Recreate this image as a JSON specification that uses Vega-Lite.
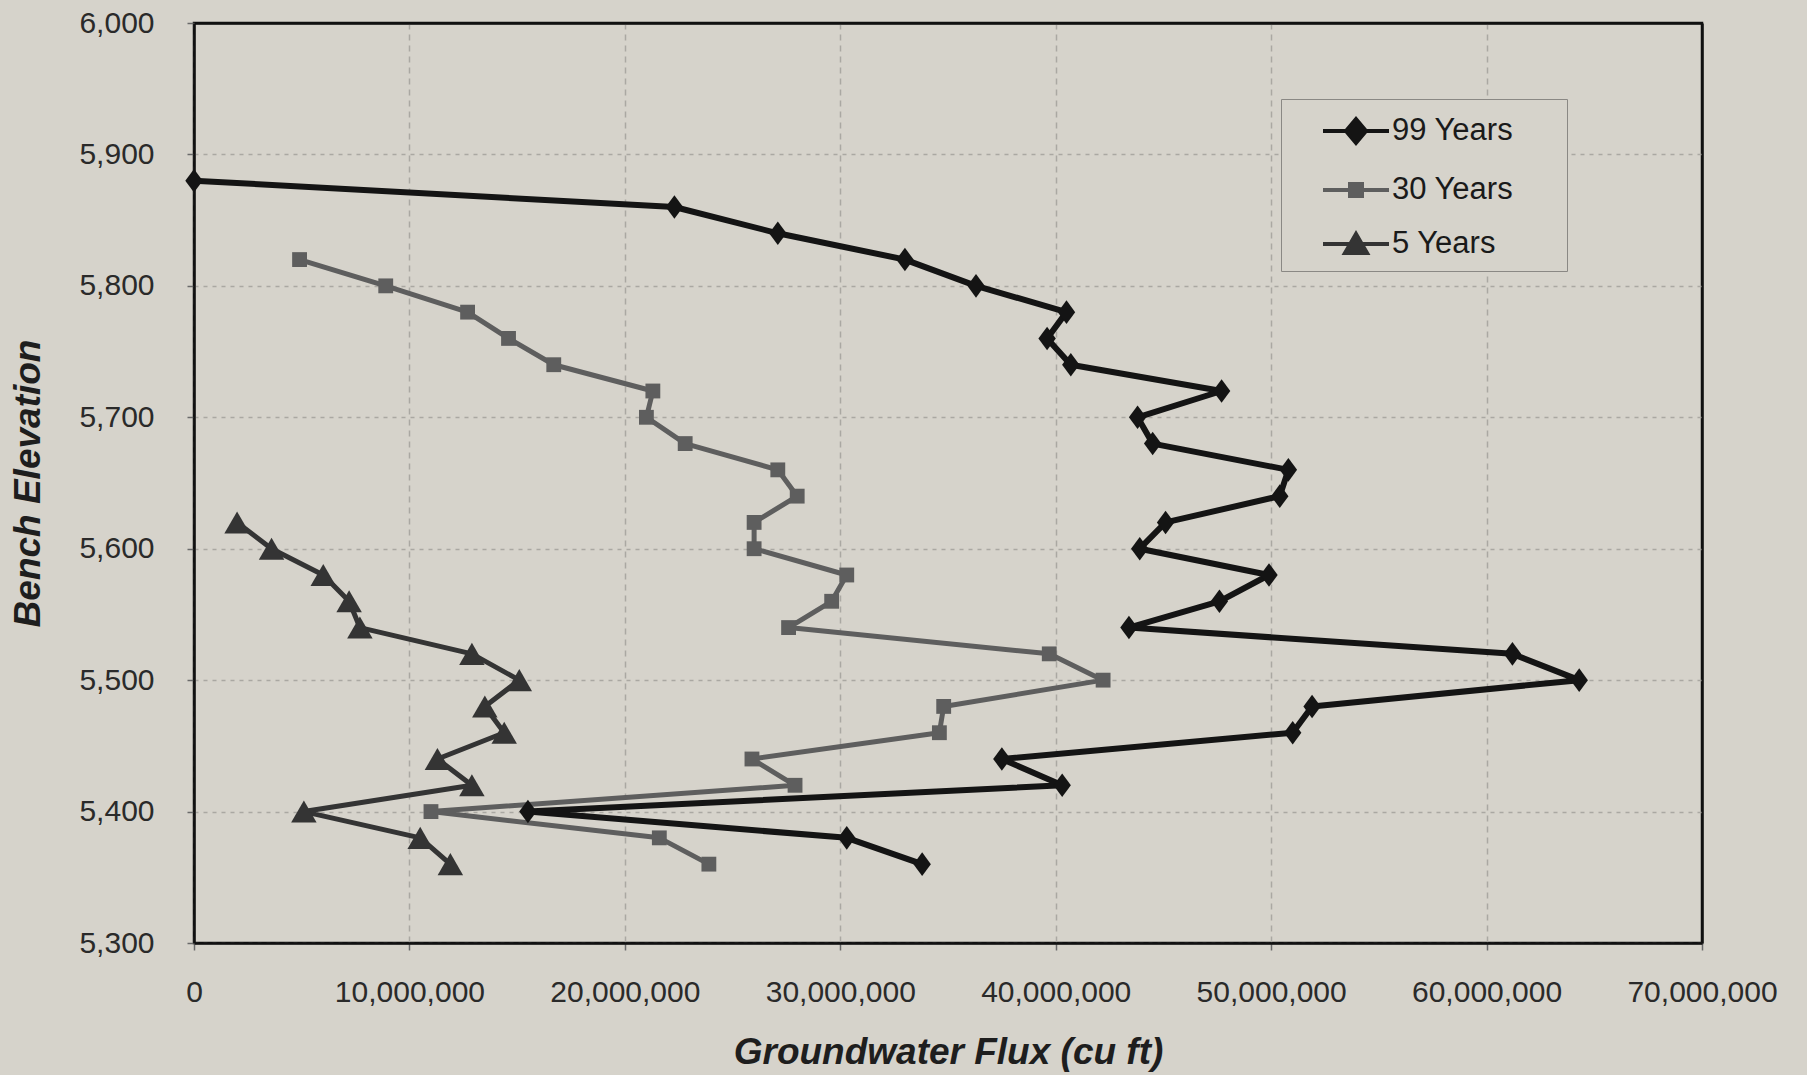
{
  "$schema": "https://vega.github.io/schema/vega-lite/v6.json",
  "width": 1508,
  "height": 920,
  "autosize": {"type": "none"},
  "padding": {"left": 194, "top": 23, "right": 105, "bottom": 132},
  "background": "#d6d3cb",
  "config": {
    "font": "Liberation Sans",
    "view": {"stroke": "#111111", "strokeWidth": 2.5, "fill": "#d6d3cb"},
    "axis": {
      "labelFont": "Liberation Sans",
      "labelFontSize": 30,
      "labelColor": "#2a2a2a",
      "labelOverlap": false,
      "labelFlush": false,
      "tickSize": 7,
      "tickColor": "#6a6a6a",
      "tickWidth": 1.5,
      "domainColor": "#111111",
      "domainWidth": 2.5,
      "grid": true,
      "gridWidth": 1.5,
      "titleFont": "Liberation Sans",
      "titleFontSize": 37,
      "titleFontWeight": "bold",
      "titleFontStyle": "italic",
      "titleColor": "#1e1e1e"
    }
  },
  "data": {
    "values": [
      {"series": "99 Years", "elev": 5880, "flux": 0},
      {"series": "99 Years", "elev": 5860, "flux": 22300000},
      {"series": "99 Years", "elev": 5840, "flux": 27100000},
      {"series": "99 Years", "elev": 5820, "flux": 33000000},
      {"series": "99 Years", "elev": 5800, "flux": 36300000},
      {"series": "99 Years", "elev": 5780, "flux": 40500000},
      {"series": "99 Years", "elev": 5760, "flux": 39600000},
      {"series": "99 Years", "elev": 5740, "flux": 40700000},
      {"series": "99 Years", "elev": 5720, "flux": 47700000},
      {"series": "99 Years", "elev": 5700, "flux": 43800000},
      {"series": "99 Years", "elev": 5680, "flux": 44500000},
      {"series": "99 Years", "elev": 5660, "flux": 50800000},
      {"series": "99 Years", "elev": 5640, "flux": 50400000},
      {"series": "99 Years", "elev": 5620, "flux": 45100000},
      {"series": "99 Years", "elev": 5600, "flux": 43900000},
      {"series": "99 Years", "elev": 5580, "flux": 49900000},
      {"series": "99 Years", "elev": 5560, "flux": 47600000},
      {"series": "99 Years", "elev": 5540, "flux": 43400000},
      {"series": "99 Years", "elev": 5520, "flux": 61200000},
      {"series": "99 Years", "elev": 5500, "flux": 64300000},
      {"series": "99 Years", "elev": 5480, "flux": 51900000},
      {"series": "99 Years", "elev": 5460, "flux": 51000000},
      {"series": "99 Years", "elev": 5440, "flux": 37500000},
      {"series": "99 Years", "elev": 5420, "flux": 40300000},
      {"series": "99 Years", "elev": 5400, "flux": 15500000},
      {"series": "99 Years", "elev": 5380, "flux": 30300000},
      {"series": "99 Years", "elev": 5360, "flux": 33800000},
      {"series": "30 Years", "elev": 5820, "flux": 4900000},
      {"series": "30 Years", "elev": 5800, "flux": 8900000},
      {"series": "30 Years", "elev": 5780, "flux": 12700000},
      {"series": "30 Years", "elev": 5760, "flux": 14600000},
      {"series": "30 Years", "elev": 5740, "flux": 16700000},
      {"series": "30 Years", "elev": 5720, "flux": 21300000},
      {"series": "30 Years", "elev": 5700, "flux": 21000000},
      {"series": "30 Years", "elev": 5680, "flux": 22800000},
      {"series": "30 Years", "elev": 5660, "flux": 27100000},
      {"series": "30 Years", "elev": 5640, "flux": 28000000},
      {"series": "30 Years", "elev": 5620, "flux": 26000000},
      {"series": "30 Years", "elev": 5600, "flux": 26000000},
      {"series": "30 Years", "elev": 5580, "flux": 30300000},
      {"series": "30 Years", "elev": 5560, "flux": 29600000},
      {"series": "30 Years", "elev": 5540, "flux": 27600000},
      {"series": "30 Years", "elev": 5520, "flux": 39700000},
      {"series": "30 Years", "elev": 5500, "flux": 42200000},
      {"series": "30 Years", "elev": 5480, "flux": 34800000},
      {"series": "30 Years", "elev": 5460, "flux": 34600000},
      {"series": "30 Years", "elev": 5440, "flux": 25900000},
      {"series": "30 Years", "elev": 5420, "flux": 27900000},
      {"series": "30 Years", "elev": 5400, "flux": 11000000},
      {"series": "30 Years", "elev": 5380, "flux": 21600000},
      {"series": "30 Years", "elev": 5360, "flux": 23900000},
      {"series": "5 Years", "elev": 5620, "flux": 2000000},
      {"series": "5 Years", "elev": 5600, "flux": 3600000},
      {"series": "5 Years", "elev": 5580, "flux": 6000000},
      {"series": "5 Years", "elev": 5560, "flux": 7200000},
      {"series": "5 Years", "elev": 5540, "flux": 7700000},
      {"series": "5 Years", "elev": 5520, "flux": 12900000},
      {"series": "5 Years", "elev": 5500, "flux": 15100000},
      {"series": "5 Years", "elev": 5480, "flux": 13500000},
      {"series": "5 Years", "elev": 5460, "flux": 14400000},
      {"series": "5 Years", "elev": 5440, "flux": 11300000},
      {"series": "5 Years", "elev": 5420, "flux": 12900000},
      {"series": "5 Years", "elev": 5400, "flux": 5100000},
      {"series": "5 Years", "elev": 5380, "flux": 10500000},
      {"series": "5 Years", "elev": 5360, "flux": 11900000}
    ]
  },
  "encoding": {
    "x": {
      "field": "flux",
      "type": "quantitative",
      "scale": {"domain": [0, 70000000], "nice": false, "zero": true},
      "axis": {
        "values": [0, 10000000, 20000000, 30000000, 40000000, 50000000, 60000000, 70000000],
        "format": ",d",
        "labelPadding": 27,
        "title": "Groundwater Flux (cu ft)",
        "titlePadding": 27,
        "gridColor": {"condition": {"test": "datum.value >= 70000000", "value": "#111111"}, "value": "#aaa8a2"},
        "gridDash": {"condition": {"test": "datum.value >= 70000000", "value": []}, "value": [6, 5]},
        "gridWidth": {"condition": {"test": "datum.value >= 70000000", "value": 2.5}, "value": 1.5}
      }
    },
    "y": {
      "field": "elev",
      "type": "quantitative",
      "scale": {"domain": [5300, 6000], "nice": false, "zero": false},
      "axis": {
        "values": [5300, 5400, 5500, 5600, 5700, 5800, 5900, 6000],
        "format": ",d",
        "labelPadding": 33,
        "title": "Bench Elevation",
        "titlePadding": 31,
        "gridColor": {"condition": {"test": "datum.value >= 6000", "value": "#111111"}, "value": "#aaa8a2"},
        "gridDash": {"condition": {"test": "datum.value >= 6000", "value": []}, "value": [4, 5]},
        "gridWidth": {"condition": {"test": "datum.value >= 6000", "value": 2.5}, "value": 1.5}
      }
    },
    "color": {
      "field": "series",
      "type": "nominal",
      "scale": {"domain": ["99 Years", "30 Years", "5 Years"], "range": ["#141414", "#5e5e5e", "#343434"]},
      "legend": {
        "orient": "none",
        "legendX": 1087,
        "legendY": 76,
        "title": null,
        "symbolSize": 1600,
        "symbolStrokeWidth": 4,
        "labelFont": "Liberation Sans",
        "labelFontSize": 31,
        "labelColor": "#1a1a1a",
        "labelOffset": 57,
        "padding": 10,
        "rowPadding": 17,
        "strokeColor": "#8a8884",
        "fillColor": "#d6d3cb",
        "encode": {
          "symbols": {
            "update": {
              "shape": {"signal": "datum.value === '99 Years' ? 'M0.5,0H3.8M1.65,0L2.15,-0.6L2.65,0L2.15,0.6ZM11.8,0' : datum.value === '30 Years' ? 'M0.5,0H3.8M1.85,-0.3H2.45V0.3H1.85ZM11.8,0' : 'M0.5,0H3.8M1.6,0.45L2.15,-0.5L2.7,0.45ZM11.8,0'"},
              "stroke": {"signal": "datum.value === '99 Years' ? '#141414' : datum.value === '30 Years' ? '#5e5e5e' : '#343434'"},
              "fill": {"signal": "datum.value === '99 Years' ? '#141414' : datum.value === '30 Years' ? '#5e5e5e' : '#343434'"},
              "strokeWidth": {"value": 4},
              "opacity": {"value": 1}
            }
          }
        }
      }
    }
  },
  "layer": [
    {
      "transform": [{"filter": "datum.series === '5 Years'"}],
      "mark": {"type": "line", "strokeJoin": "round", "strokeWidth": 5},
      "encoding": {"order": {"field": "elev", "type": "quantitative"}}
    },
    {
      "transform": [{"filter": "datum.series === '5 Years'"}],
      "mark": {"type": "point", "filled": true, "opacity": 1, "shape": "triangle-up", "size": 650}
    },
    {
      "transform": [{"filter": "datum.series === '30 Years'"}],
      "mark": {"type": "line", "strokeJoin": "round", "strokeWidth": 5},
      "encoding": {"order": {"field": "elev", "type": "quantitative"}}
    },
    {
      "transform": [{"filter": "datum.series === '30 Years'"}],
      "mark": {"type": "point", "filled": true, "opacity": 1, "shape": "square", "size": 220}
    },
    {
      "transform": [{"filter": "datum.series === '99 Years'"}],
      "mark": {"type": "line", "strokeJoin": "round", "strokeWidth": 6},
      "encoding": {"order": {"field": "elev", "type": "quantitative"}}
    },
    {
      "transform": [{"filter": "datum.series === '99 Years'"}],
      "mark": {"type": "point", "filled": true, "opacity": 1, "shape": "M0,-1.15L0.85,0L0,1.15L-0.85,0Z", "size": 420}
    }
  ]
}
